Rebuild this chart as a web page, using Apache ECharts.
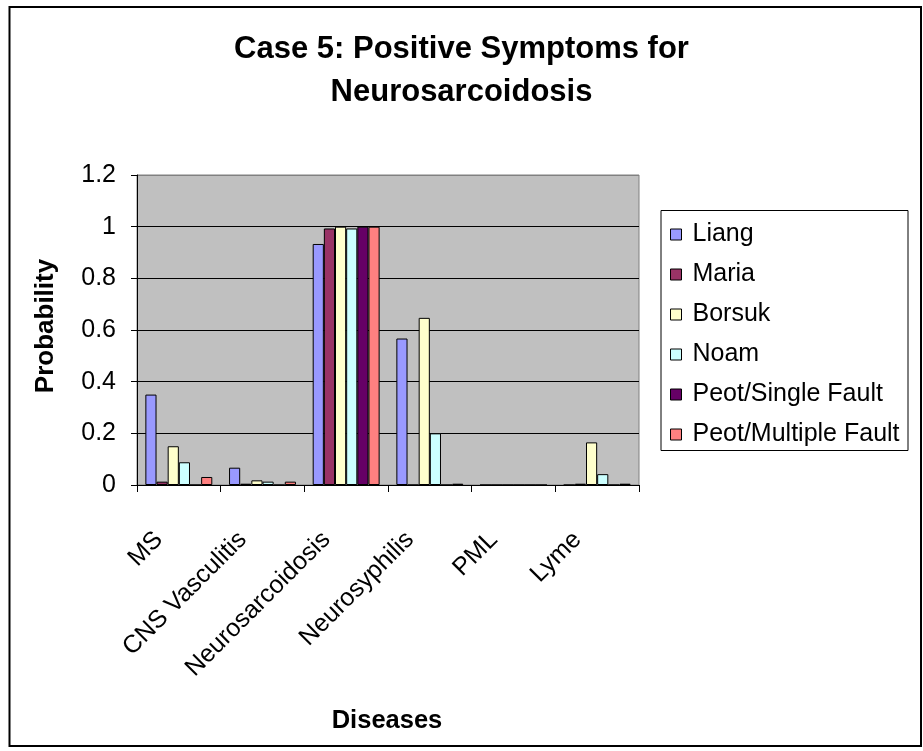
<!DOCTYPE html>
<html>
<head>
<meta charset="utf-8">
<script src="https://cdn.jsdelivr.net/npm/echarts@6/dist/echarts.min.js"></script>
<style>
  html, body { margin: 0; padding: 0; background: #fff; }
  #chart { width: 923px; height: 751px; }
</style>
</head>
<body>
<div id="chart"></div>
<script>
// Diseases on the category axis
const categories = ['MS', 'CNS Vasculitis', 'Neurosarcoidosis', 'Neurosyphilis', 'PML', 'Lyme'];

// Probability per disease, one array per diagnostician / method
const liang        = [0.35,  0.067, 0.933, 0.567, 0, 0];
const maria        = [0.013, 0.005, 0.993, 0,     0, 0.005];
const borsuk       = [0.15,  0.018, 1.0,   0.647, 0, 0.165];
const noam         = [0.088, 0.013, 0.993, 0.2,   0, 0.042];
const peotSingle   = [0,     0,     1.0,   0,     0, 0];
const peotMultiple = [0.031, 0.013, 1.0,   0.005, 0, 0.005];

const yTicks = [0, 0.2, 0.4, 0.6, 0.8, 1, 1.2];

const seriesDefs = [
  { name: 'Liang', data: liang, color: '#9999FF' },
  { name: 'Maria', data: maria, color: '#993366' },
  { name: 'Borsuk', data: borsuk, color: '#FFFFCC' },
  { name: 'Noam', data: noam, color: '#CCFFFF' },
  { name: 'Peot/Single Fault', data: peotSingle, color: '#660066' },
  { name: 'Peot/Multiple Fault', data: peotMultiple, color: '#FF8080' }
];

const FONT = "'Liberation Sans', Arial, sans-serif";

const chart = echarts.init(document.getElementById('chart'), null, { renderer: 'canvas' });

chart.setOption({
  animation: false,
  backgroundColor: '#ffffff',
  textStyle: { fontFamily: FONT, color: '#000' },
  title: {
    text: 'Case 5: Positive Symptoms for\nNeurosarcoidosis',
    left: 'center',
    top: 28,
    padding: 0,
    textStyle: { fontFamily: FONT, fontSize: 31, fontWeight: 'bold', color: '#000', lineHeight: 43 }
  },
  legend: {
    orient: 'vertical',
    left: 670,
    top: 222,
    padding: 0,
    itemWidth: 11,
    itemHeight: 11,
    itemGap: 15,
    icon: 'rect',
    itemStyle: { borderColor: '#000', borderWidth: 1 },
    textStyle: { fontFamily: FONT, fontSize: 25, color: '#000', lineHeight: 24, padding: [0, 0, 0, 6] },
    data: seriesDefs.map(s => s.name)
  },
  grid: {
    left: 137,
    top: 175,
    width: 502,
    height: 310,
    show: true,
    backgroundColor: '#C0C0C0',
    borderColor: '#808080',
    borderWidth: 1,
    containLabel: false
  },
  xAxis: {
    type: 'category',
    data: categories,
    boundaryGap: true,
    axisLine: { show: true, lineStyle: { color: '#000', width: 1 } },
    axisTick: { show: true, length: 7, lineStyle: { color: '#000' } },
    axisLabel: {
      interval: 0,
      rotate: 45,
      margin: 31,
      fontFamily: FONT,
      fontSize: 25,
      color: '#000',
      padding: [0, 28, 0, 0]
    },
    splitLine: { show: false }
  },
  yAxis: {
    type: 'value',
    min: yTicks[0],
    max: yTicks[yTicks.length - 1],
    interval: 0.2,
    axisLine: { show: true, lineStyle: { color: '#000', width: 1 } },
    axisTick: { show: true, length: 6, lineStyle: { color: '#000' } },
    axisLabel: {
      margin: 21,
      fontFamily: FONT,
      fontSize: 25,
      color: '#000',
      formatter: v => String(Math.round(v * 10) / 10)
    },
    splitLine: {
      show: true,
      lineStyle: { color: ['#000', '#000', '#000', '#000', '#000', '#000', '#808080'], width: 1 }
    }
  },
  graphic: [
    {
      type: 'rect',
      silent: true,
      shape: { x: 9.5, y: 7, width: 911.5, height: 739 },
      style: { fill: 'none', stroke: '#000', lineWidth: 2 }
    },
    {
      type: 'rect',
      silent: true,
      shape: { x: 661, y: 210.5, width: 247, height: 240 },
      style: { fill: 'none', stroke: '#000', lineWidth: 1 }
    },
    {
      type: 'text',
      silent: true,
      x: 46,
      y: 326,
      rotation: Math.PI / 2,
      style: {
        text: 'Probability',
        font: "bold 26px 'Liberation Sans', Arial, sans-serif",
        fill: '#000',
        align: 'center',
        verticalAlign: 'middle'
      }
    },
    {
      type: 'text',
      silent: true,
      x: 387,
      y: 721,
      style: {
        text: 'Diseases',
        font: "bold 25.5px 'Liberation Sans', Arial, sans-serif",
        fill: '#000',
        align: 'center',
        verticalAlign: 'middle'
      }
    }
  ],
  series: seriesDefs.map(s => ({
    name: s.name,
    type: 'bar',
    data: s.data,
    barGap: '0%',
    barCategoryGap: '20%',
    itemStyle: { color: s.color, borderColor: '#000', borderWidth: 1 }
  }))
});
</script>
</body>
</html>
